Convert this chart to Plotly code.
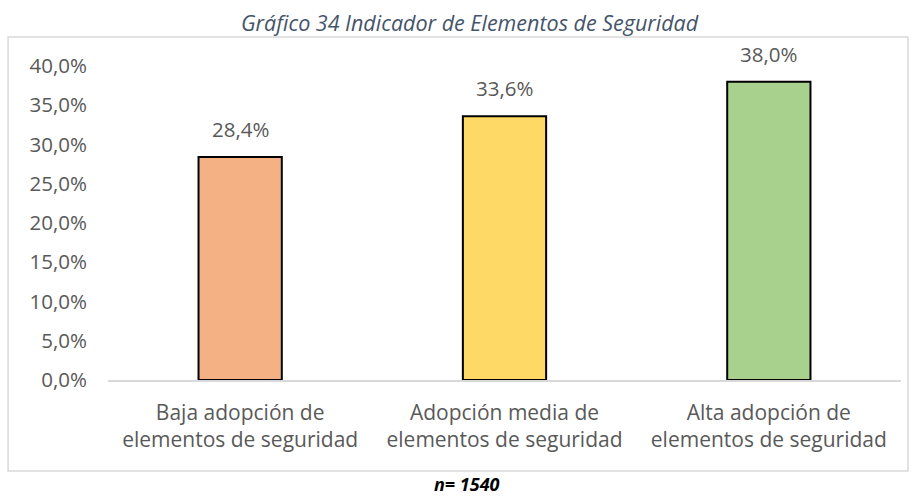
import plotly.graph_objects as go

# Indicator data (percent of respondents)
categories = [
    "Baja adopción de<br>elementos de seguridad",
    "Adopción media de<br>elementos de seguridad",
    "Alta adopción de<br>elementos de seguridad",
]
values = [28.4, 33.6, 38.0]
bar_colors = ["#F4B183", "#FFD966", "#A9D18E"]
y_ticks = [0, 5, 10, 15, 20, 25, 30, 35, 40]
y_tick_labels = [f"{v:.1f}%".replace(".", ",") for v in y_ticks]

TEXT_GRAY = "#595959"
FONT = "Open Sans"

fig = go.Figure(
    go.Bar(
        x=categories,
        y=values,
        marker=dict(color=bar_colors, line=dict(color="#000000", width=2)),
        width=0.315,
        hoverinfo="skip",
    )
)

# value labels above each bar
for cat, val in zip(categories, values):
    fig.add_annotation(
        x=cat, y=val, xref="x", yref="y",
        text=f"{val:.1f}%".replace(".", ","),
        showarrow=False, yanchor="bottom", yshift=12,
        font=dict(family=FONT, size=20.5, color=TEXT_GRAY),
    )

# outer chart frame
fig.add_shape(
    type="rect", xref="paper", yref="paper",
    x0=-0.126, x1=1.0088, y0=-0.2898, y1=1.0924,
    line=dict(color="#D9D9D9", width=1.5), fillcolor="rgba(0,0,0,0)",
    layer="below",
)

# chart title
fig.add_annotation(
    x=0.4565, y=1.140, xref="paper", yref="paper",
    text="<i>Gráfico 34 Indicador de Elementos de Seguridad</i>",
    showarrow=False, xanchor="center", yanchor="middle",
    font=dict(family=FONT, size=21.5, color="#44546A"),
)

# sample size note
fig.add_annotation(
    x=0.4526, y=-0.330, xref="paper", yref="paper",
    text="<b><i>n= 1540</i></b>",
    showarrow=False, xanchor="center", yanchor="middle",
    font=dict(family=FONT, size=18, color="#000000"),
)

fig.update_layout(
    width=917, height=498,
    margin=dict(l=108, r=16, t=66, b=118),
    paper_bgcolor="white", plot_bgcolor="white",
    showlegend=False,
    hovermode=False,
    font=dict(family=FONT, color=TEXT_GRAY),
)

fig.update_xaxes(
    showgrid=False, showline=True, linecolor="#D9D9D9", linewidth=1.5,
    ticks="", tickfont=dict(family=FONT, size=21, color=TEXT_GRAY),
    ticklabelstandoff=13,
)

fig.update_yaxes(
    range=[0, 40], showgrid=False, zeroline=False, showline=False,
    tickvals=y_ticks, ticktext=y_tick_labels, ticks="",
    tickfont=dict(family=FONT, size=20.5, color=TEXT_GRAY),
    ticklabelstandoff=20,
)

fig.write_html("out.html", config=dict(displayModeBar=False, staticPlot=True))
